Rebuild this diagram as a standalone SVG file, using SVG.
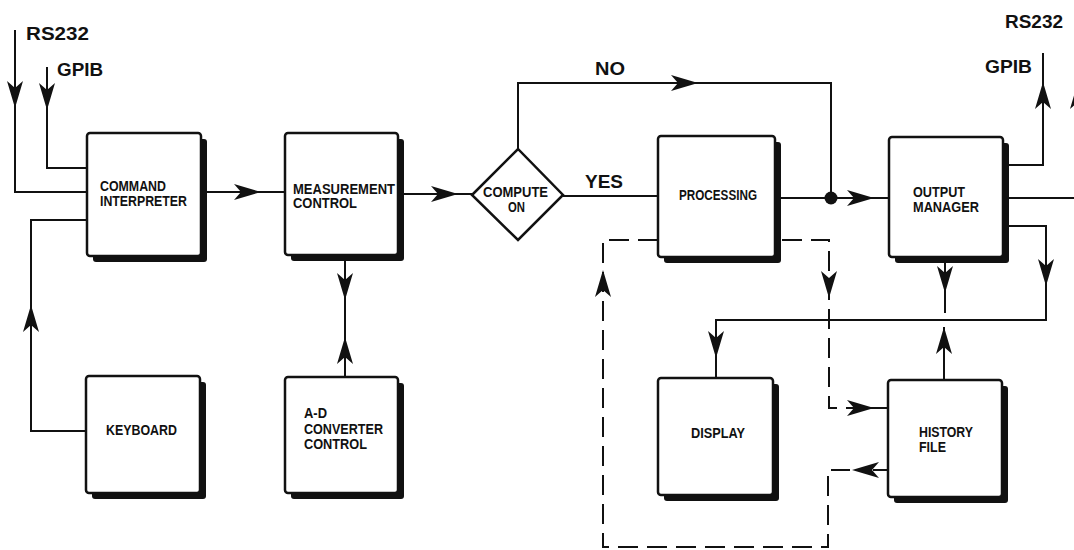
<svg xmlns="http://www.w3.org/2000/svg" xmlns:xlink="http://www.w3.org/1999/xlink" width="1074" height="550" viewBox="0 0 1074 550">
<style>
.bx{fill:#fff;stroke:#111;stroke-width:2.5}
.sh{fill:#111}
.ln{fill:none;stroke:#111;stroke-width:2}
.ds{fill:none;stroke:#111;stroke-width:2;stroke-dasharray:20 9}
.t{font-family:"Liberation Sans",Arial,sans-serif;font-size:14.5px;font-weight:bold;fill:#111}
.lb{font-family:"Liberation Sans",Arial,sans-serif;font-size:19px;font-weight:bold;fill:#111}
</style>
<defs>
<path id="ah" d="M0,0 L-27,-8 L-20,0 L-27,8 Z" fill="#111"/>
</defs>
<rect width="1074" height="550" fill="#fff"/>
<g id="connectors">
<path class="ln" d="M15,30 V192 H87"/>
<use xlink:href="#ah" transform="translate(15,108) rotate(90)"/>
<path class="ln" d="M47,67 V168 H87"/>
<use xlink:href="#ah" transform="translate(47,110) rotate(90)"/>
<path class="ln" d="M86,431 H31 V220 H87"/>
<use xlink:href="#ah" transform="translate(31,305) rotate(-90)"/>
<path class="ln" d="M206,192 H285"/>
<use xlink:href="#ah" transform="translate(261,192)"/>
<path class="ln" d="M345,259 V377"/>
<use xlink:href="#ah" transform="translate(345,300) rotate(90)"/>
<use xlink:href="#ah" transform="translate(345,337) rotate(-90)"/>
<path class="ln" d="M403,194 H472"/>
<use xlink:href="#ah" transform="translate(458,194)"/>
<path class="ln" d="M518,149 V83 H831 V198"/>
<use xlink:href="#ah" transform="translate(698,83)"/>
<path class="ln" d="M563,196 H658"/>
<path class="ln" d="M780,198 H889"/>
<circle cx="831" cy="198" r="6.5" fill="#111"/>
<use xlink:href="#ah" transform="translate(874,198)"/>
<path class="ln" d="M1008,165 H1043 V53"/>
<use xlink:href="#ah" transform="translate(1043,82) rotate(-90)"/>
<path class="ln" d="M1008,198 H1078 V40"/>
<use xlink:href="#ah" transform="translate(1078,82) rotate(-90)"/>
<path class="ln" d="M1008,226 H1046 V320 H716 V378"/>
<use xlink:href="#ah" transform="translate(1046,286) rotate(90)"/>
<use xlink:href="#ah" transform="translate(716,358) rotate(90)"/>
<path class="ln" d="M945,263 V313"/>
<use xlink:href="#ah" transform="translate(945,293) rotate(90)"/>
<path class="ln" d="M944,380 V327"/>
<use xlink:href="#ah" transform="translate(944,327) rotate(-90)"/>
<path class="ds" d="M658,240 H603 V547 H828 V470 H850"/>
<path class="ln" d="M873,470 H888"/>
<use xlink:href="#ah" transform="translate(852,470) rotate(180)"/>
<use xlink:href="#ah" transform="translate(603,270) rotate(-90)"/>
<path class="ds" d="M782,240 H829 V408 H852"/>
<path class="ln" d="M852,408 H888"/>
<use xlink:href="#ah" transform="translate(874,408)"/>
<use xlink:href="#ah" transform="translate(829,298) rotate(90)"/>
</g>
<g id="labels">
<text class="lb" x="26" y="40" textLength="63" lengthAdjust="spacingAndGlyphs">RS232</text>
<text class="lb" x="57" y="76" textLength="46" lengthAdjust="spacingAndGlyphs">GPIB</text>
<text class="lb" x="595" y="75" textLength="30" lengthAdjust="spacingAndGlyphs">NO</text>
<text class="lb" x="585" y="188" textLength="38" lengthAdjust="spacingAndGlyphs">YES</text>
<text class="lb" x="985" y="73" textLength="47" lengthAdjust="spacingAndGlyphs">GPIB</text>
<text class="lb" x="1005" y="28" textLength="58" lengthAdjust="spacingAndGlyphs">RS232</text>
</g>
<g id="command-interpreter">
<rect class="sh" x="93" y="139" width="114" height="123" rx="3"/>
<rect class="bx" x="87" y="133" width="114" height="123" rx="3"/>
<text class="t" x="100" y="191" textLength="66" lengthAdjust="spacingAndGlyphs">COMMAND</text>
<text class="t" x="100" y="206" textLength="87" lengthAdjust="spacingAndGlyphs">INTERPRETER</text>
</g>
<g id="measurement-control">
<rect class="sh" x="291" y="139" width="113" height="122" rx="3"/>
<rect class="bx" x="285" y="133" width="113" height="122" rx="3"/>
<text class="t" x="293" y="194" textLength="102" lengthAdjust="spacingAndGlyphs">MEASUREMENT</text>
<text class="t" x="293" y="208" textLength="64" lengthAdjust="spacingAndGlyphs">CONTROL</text>
</g>
<g id="compute-on">
<polygon class="bx" points="472,195 518,149 563,195 518,240" stroke-width="2"/>
<text class="t" x="483" y="197" textLength="65" lengthAdjust="spacingAndGlyphs">COMPUTE</text>
<text class="t" x="508" y="212" textLength="17" lengthAdjust="spacingAndGlyphs">ON</text>
</g>
<g id="processing">
<rect class="sh" x="664" y="142" width="117" height="121" rx="3"/>
<rect class="bx" x="658" y="136" width="117" height="121" rx="3"/>
<text class="t" x="679" y="200" textLength="78" lengthAdjust="spacingAndGlyphs">PROCESSING</text>
</g>
<g id="output-manager">
<rect class="sh" x="895" y="143" width="114" height="120" rx="3"/>
<rect class="bx" x="889" y="137" width="114" height="120" rx="3"/>
<text class="t" x="913" y="197" textLength="52" lengthAdjust="spacingAndGlyphs">OUTPUT</text>
<text class="t" x="913" y="212" textLength="66" lengthAdjust="spacingAndGlyphs">MANAGER</text>
</g>
<g id="keyboard">
<rect class="sh" x="92" y="382" width="114" height="117" rx="3"/>
<rect class="bx" x="86" y="376" width="114" height="117" rx="3"/>
<text class="t" x="106" y="435" textLength="71" lengthAdjust="spacingAndGlyphs">KEYBOARD</text>
</g>
<g id="ad-converter-control">
<rect class="sh" x="291" y="383" width="113" height="116" rx="3"/>
<rect class="bx" x="285" y="377" width="113" height="116" rx="3"/>
<text class="t" x="304" y="418" textLength="23" lengthAdjust="spacingAndGlyphs">A-D</text>
<text class="t" x="304" y="434" textLength="79" lengthAdjust="spacingAndGlyphs">CONVERTER</text>
<text class="t" x="304" y="449" textLength="63" lengthAdjust="spacingAndGlyphs">CONTROL</text>
</g>
<g id="display">
<rect class="sh" x="664" y="384" width="115" height="117" rx="3"/>
<rect class="bx" x="658" y="378" width="115" height="117" rx="3"/>
<text class="t" x="691" y="438" textLength="54" lengthAdjust="spacingAndGlyphs">DISPLAY</text>
</g>
<g id="history-file">
<rect class="sh" x="894" y="386" width="114" height="117" rx="3"/>
<rect class="bx" x="888" y="380" width="114" height="117" rx="3"/>
<text class="t" x="919" y="437" textLength="54" lengthAdjust="spacingAndGlyphs">HISTORY</text>
<text class="t" x="919" y="452" textLength="27" lengthAdjust="spacingAndGlyphs">FILE</text>
</g>
</svg>
